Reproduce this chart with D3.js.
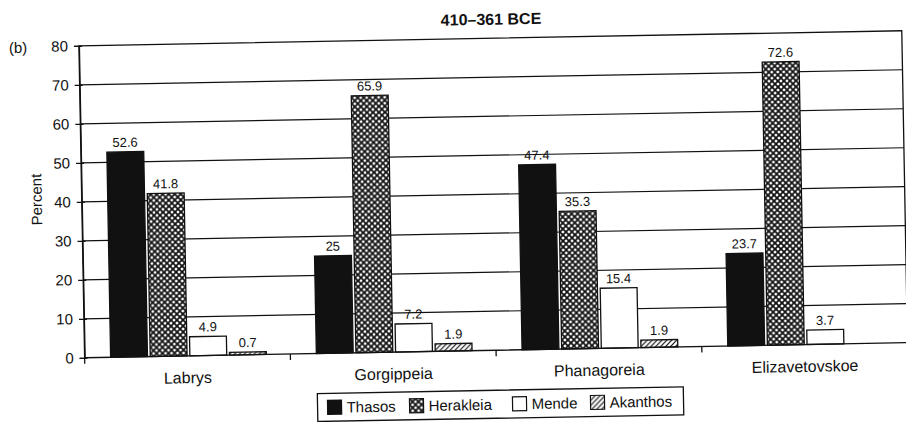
<!DOCTYPE html>
<html>
<head>
<meta charset="utf-8">
<script src="https://cdn.jsdelivr.net/npm/d3@7"></script>
<style>
  html, body { margin: 0; padding: 0; background: #fff; }
  svg { display: block; }
  text { font-family: "Liberation Sans", Arial, Helvetica, sans-serif; fill: #111; }
</style>
</head>
<body>
<svg id="chart" width="906" height="422"></svg>
<script>
// ---- data ----
const categories = ["Labrys", "Gorgippeia", "Phanagoreia", "Elizavetovskoe"];
const seriesNames = ["Thasos", "Herakleia", "Mende", "Akanthos"];
const thasos    = [52.6, 25, 47.4, 23.7];
const herakleia = [41.8, 65.9, 35.3, 72.6];
const mende     = [4.9, 7.2, 15.4, 3.7];
const akanthos  = [0.7, 1.9, 1.9, null];
const valueLabels = {
  Thasos: ["52.6", "25", "47.4", "23.7"],
  Herakleia: ["41.8", "65.9", "35.3", "72.6"],
  Mende: ["4.9", "7.2", "15.4", "3.7"],
  Akanthos: ["0.7", "1.9", "1.9", null]
};
const yTicks = [0, 10, 20, 30, 40, 50, 60, 70, 80];
const titleText = "410\u2013361 BCE";
const panelLabel = "(b)";
const yTitle = "Percent";

const seriesValues = { Thasos: thasos, Herakleia: herakleia, Mende: mende, Akanthos: akanthos };
const fills = { Thasos: "#111", Herakleia: "url(#cross)", Mende: "#fff", Akanthos: "url(#hatch)" };

// ---- layout ----
const plotLeft = 82, plotRight = 905, plotTop = 39, plotBottom = 351;

const svg = d3.select("#chart");
const defs = svg.append("defs");

const cross = defs.append("pattern").attr("id", "cross")
  .attr("patternUnits", "userSpaceOnUse").attr("width", 6).attr("height", 6);
cross.append("rect").attr("width", 6).attr("height", 6).attr("fill", "#fff");
cross.append("path")
  .attr("d", "M0,0L6,6M6,0L0,6M-1,5L1,7M5,-1L7,1M-1,1L1,-1M5,7L7,5")
  .attr("stroke", "#111").attr("stroke-width", 1.7);

const hatch = defs.append("pattern").attr("id", "hatch")
  .attr("patternUnits", "userSpaceOnUse").attr("width", 5).attr("height", 5);
hatch.append("rect").attr("width", 5).attr("height", 5).attr("fill", "#fff");
hatch.append("path")
  .attr("d", "M0,5L5,0M-1,1L1,-1M4,6L6,4")
  .attr("stroke", "#111").attr("stroke-width", 1.2);

const root = svg.append("g").attr("transform", "rotate(-1.05,453,211)");

const y = d3.scaleLinear().domain([0, 80]).range([plotBottom, plotTop]);
const x0 = d3.scaleBand().domain(categories).range([plotLeft, plotRight]).paddingInner(0).paddingOuter(0);
const x1 = d3.scaleBand().domain(seriesNames).range([26, x0.bandwidth() - 24]).paddingInner(0.07);

// gridlines
root.append("g").selectAll("line").data(yTicks.filter(t => t > 0 && t < 80)).join("line")
  .attr("x1", plotLeft).attr("x2", plotRight)
  .attr("y1", d => y(d)).attr("y2", d => y(d))
  .attr("stroke", "#111").attr("stroke-width", 1.2);

// bars
const groups = root.append("g").selectAll("g").data(categories).join("g")
  .attr("transform", d => `translate(${x0(d)},0)`);

groups.each(function(cat, ci) {
  const g = d3.select(this);
  const items = seriesNames
    .map(s => ({ s, v: seriesValues[s][ci], label: valueLabels[s][ci] }))
    .filter(d => d.v != null);
  g.selectAll("rect").data(items).join("rect")
    .attr("x", d => x1(d.s))
    .attr("y", d => y(d.v))
    .attr("width", x1.bandwidth())
    .attr("height", d => y(0) - y(d.v))
    .attr("fill", d => fills[d.s])
    .attr("stroke", "#111").attr("stroke-width", 1.3);
  g.selectAll("text").data(items).join("text")
    .attr("x", d => x1(d.s) + x1.bandwidth() / 2)
    .attr("y", d => y(d.v) - 5)
    .attr("text-anchor", "middle")
    .attr("font-size", 13)
    .text(d => d.label);
});

// frame
root.append("rect").attr("x", plotLeft).attr("y", plotTop)
  .attr("width", plotRight - plotLeft).attr("height", plotBottom - plotTop)
  .attr("fill", "none").attr("stroke", "#111").attr("stroke-width", 1.3);

// y axis
const yAxis = root.append("g").attr("transform", `translate(${plotLeft},0)`)
  .call(d3.axisLeft(y).tickValues(yTicks).tickSize(5).tickPadding(6));
yAxis.select(".domain").attr("stroke", "#111").attr("stroke-width", 1.3);
yAxis.selectAll(".tick line").attr("stroke", "#111").attr("stroke-width", 1.3);
yAxis.selectAll(".tick").append("line").attr("x1", 0).attr("x2", 3)
  .attr("stroke", "#111").attr("stroke-width", 1.3);
yAxis.selectAll(".tick text").attr("font-size", 15).attr("fill", "#111")
  .style("font-family", "'Liberation Sans', Arial, Helvetica, sans-serif");

// x axis
const xAxis = root.append("g").attr("transform", `translate(0,${plotBottom})`)
  .call(d3.axisBottom(x0).tickSize(0).tickPadding(16));
xAxis.select(".domain").remove();
xAxis.selectAll(".tick text").attr("font-size", 16).attr("fill", "#111")
  .style("font-family", "'Liberation Sans', Arial, Helvetica, sans-serif");
// category boundary ticks
const bounds = categories.map(c => x0(c)).concat([plotRight]);
root.append("g").selectAll("line").data(bounds).join("line")
  .attr("x1", d => d).attr("x2", d => d)
  .attr("y1", plotBottom).attr("y2", plotBottom + 6)
  .attr("stroke", "#111").attr("stroke-width", 1.3);

// titles
root.append("text").attr("x", (plotLeft + plotRight) / 2 + 1).attr("y", 25.5)
  .attr("text-anchor", "middle").attr("font-size", 16).attr("font-weight", "bold")
  .text(titleText);
root.append("text").attr("x", 12).attr("y", 45).attr("font-size", 15).text(panelLabel);
root.append("text").attr("transform", "translate(42,192) rotate(-90)")
  .attr("text-anchor", "middle").attr("font-size", 15).text(yTitle);

// legend
const legend = root.append("g");
legend.append("rect").attr("x", 314).attr("y", 391).attr("width", 366).attr("height", 28)
  .attr("fill", "#fff").attr("stroke", "#111").attr("stroke-width", 1.3);
const legendX = { Thasos: 324, Herakleia: 406, Mende: 509, Akanthos: 587 };
const li = legend.selectAll("g.item").data(seriesNames).join("g").attr("class", "item")
  .attr("transform", d => `translate(${legendX[d]},398)`);
li.append("rect").attr("width", 14).attr("height", 14)
  .attr("fill", d => fills[d]).attr("stroke", "#111").attr("stroke-width", 1.2);
li.append("text").attr("x", 19).attr("y", 12.5).attr("font-size", 15).text(d => d);
</script>
</body>
</html>
